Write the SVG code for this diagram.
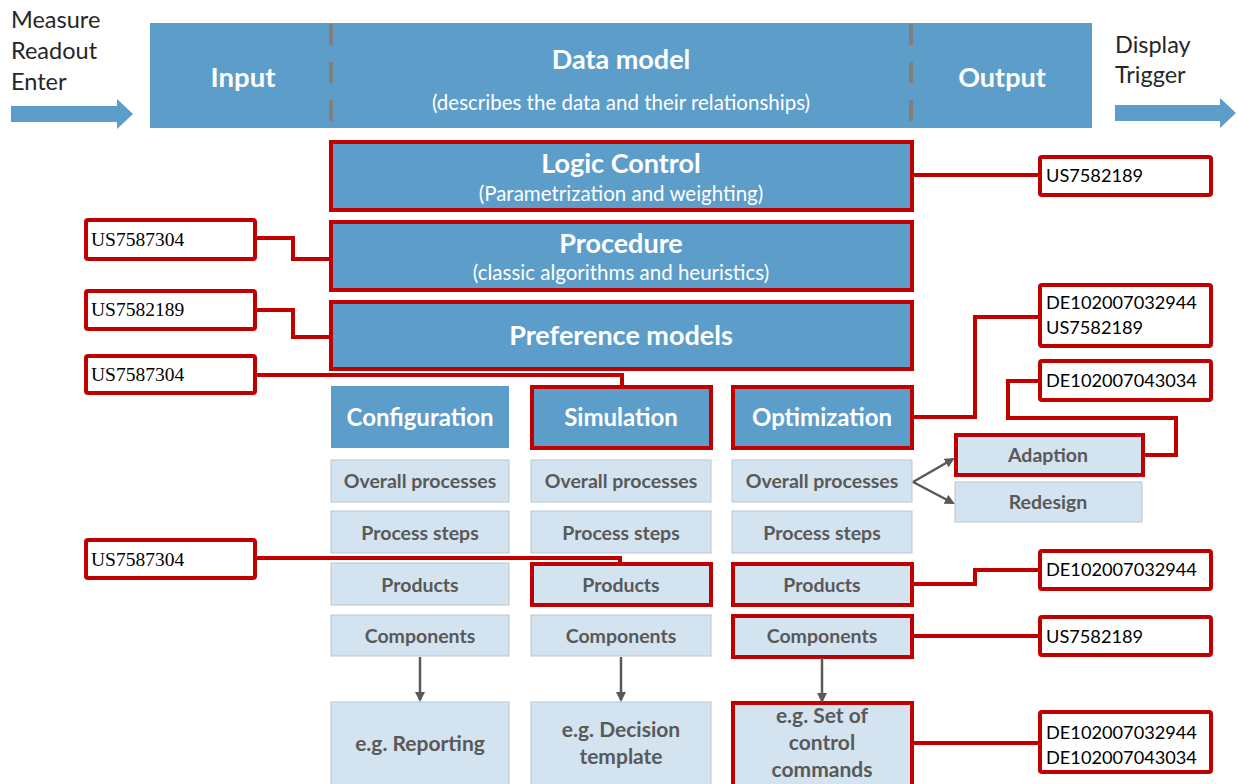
<svg xmlns="http://www.w3.org/2000/svg" width="1238" height="784" viewBox="0 0 1238 784">
<defs>
<style>
.blue{fill:#5d9dca}
.light{fill:#d3e3ef;stroke:#b8c7d3;stroke-width:1}
.red{stroke:#c00000;stroke-width:4}
.lbl{fill:#fff;stroke:#c00000;stroke-width:4}
.conn{fill:none;stroke:#c00000;stroke-width:4}
.garr{fill:none;stroke:#595959;stroke-width:2.5}
.wt{font-family:Lato,"Liberation Sans",sans-serif;fill:#fff;font-weight:bold;text-anchor:middle}
.ws{font-family:Lato,"Liberation Sans",sans-serif;fill:#fff;text-anchor:middle;font-size:20.5px}
.gt{font-family:Lato,"Liberation Sans",sans-serif;fill:#595959;font-weight:bold;text-anchor:middle;font-size:19.5px}
.gb{font-family:Lato,"Liberation Sans",sans-serif;fill:#595959;font-weight:bold;text-anchor:middle;font-size:21px}
.side{font-family:Lato,"Liberation Sans",sans-serif;fill:#262626;font-size:23.5px}
.rs{font-family:Lato,"Liberation Sans",sans-serif;fill:#000;font-size:18.2px}
.ls{font-family:"Liberation Serif",serif;fill:#000;font-size:19.5px}
</style>
<marker id="ah" markerWidth="10" markerHeight="10" refX="8" refY="5" orient="auto" markerUnits="userSpaceOnUse">
<path d="M0,0 L10,5 L0,10 z" fill="#595959"/>
</marker>
</defs>
<rect width="1238" height="784" fill="#fff"/>

<g id="input-arrow">
<text class="side" x="11" y="28">Measure</text>
<text class="side" x="11" y="59">Readout</text>
<text class="side" x="11" y="90">Enter</text>
<path class="blue" d="M11,106 L117,106 L117,99 L133,114 L117,129 L117,122 L11,122 z"/>
</g>
<g id="output-arrow">
<text class="side" x="1115" y="53">Display</text>
<text class="side" x="1115" y="83">Trigger</text>
<path class="blue" d="M1115,105 L1220,105 L1220,98 L1236,113 L1220,128 L1220,121 L1115,121 z"/>
</g>

<g id="datamodel">
<rect class="blue" x="150" y="23" width="942" height="105"/>
<line x1="331" y1="24" x2="331" y2="128" stroke="#7f7f7f" stroke-width="4" stroke-dasharray="21,17"/>
<line x1="911" y1="24" x2="911" y2="128" stroke="#7f7f7f" stroke-width="4" stroke-dasharray="21,17"/>
<text class="wt" x="243" y="87" font-size="27.5">Input</text>
<text class="wt" x="621" y="69" font-size="27">Data model</text>
<text class="ws" x="621" y="110">(describes the data and their relationships)</text>
<text class="wt" x="1002" y="87" font-size="27">Output</text>
</g>

<g id="logic">
<rect class="blue red" x="331" y="142" width="581" height="68"/>
<text class="wt" x="621" y="173" font-size="27">Logic Control</text>
<text class="ws" x="621" y="201">(Parametrization and weighting)</text>
</g>
<g id="procedure">
<rect class="blue red" x="331" y="222" width="581" height="68"/>
<text class="wt" x="621" y="253" font-size="27">Procedure</text>
<text class="ws" x="621" y="280">(classic algorithms and heuristics)</text>
</g>
<g id="preference">
<rect class="blue red" x="331" y="302" width="581" height="67"/>
<text class="wt" x="621" y="345" font-size="27">Preference models</text>
</g>

<g id="configuration">
<rect class="blue" x="331" y="386" width="178" height="62"/>
<text class="wt" x="420" y="426" font-size="24">Configuration</text>
</g>
<g id="simulation">
<rect class="blue red" x="532" y="387" width="179" height="61"/>
<text class="wt" x="621" y="426" font-size="24">Simulation</text>
</g>
<g id="optimization">
<rect class="blue red" x="733" y="387" width="179" height="61"/>
<text class="wt" x="822" y="426" font-size="24">Optimization</text>
</g>

<g id="col1">
<rect class="light" x="331" y="460" width="178" height="42"/><text class="gt" x="420" y="488">Overall processes</text>
<rect class="light" x="331" y="511" width="178" height="42"/><text class="gt" x="420" y="540">Process steps</text>
<rect class="light" x="331" y="563" width="178" height="42"/><text class="gt" x="420" y="592">Products</text>
<rect class="light" x="331" y="615" width="178" height="41"/><text class="gt" x="420" y="643">Components</text>
<rect class="light" x="331" y="702" width="178" height="90"/><text class="gb" x="420" y="751">e.g. Reporting</text>
</g>
<g id="col2">
<rect class="light" x="531" y="460" width="180" height="42"/><text class="gt" x="621" y="488">Overall processes</text>
<rect class="light" x="531" y="511" width="180" height="42"/><text class="gt" x="621" y="540">Process steps</text>
<rect class="light red" x="532" y="564" width="179" height="41"/><text class="gt" x="621" y="592">Products</text>
<rect class="light" x="531" y="615" width="180" height="41"/><text class="gt" x="621" y="643">Components</text>
<rect class="light" x="531" y="702" width="180" height="90"/><text class="gb" x="621" y="737">e.g. Decision</text><text class="gb" x="621" y="764">template</text>
</g>
<g id="col3">
<rect class="light" x="732" y="460" width="180" height="42"/><text class="gt" x="822" y="488">Overall processes</text>
<rect class="light" x="732" y="511" width="180" height="42"/><text class="gt" x="822" y="540">Process steps</text>
<rect class="light red" x="733" y="564" width="179" height="41"/><text class="gt" x="822" y="592">Products</text>
<rect class="light red" x="733" y="616" width="179" height="41"/><text class="gt" x="822" y="643">Components</text>
<rect class="light red" x="733" y="703" width="179" height="90"/><text class="gb" x="822" y="723">e.g. Set of</text><text class="gb" x="822" y="750">control</text><text class="gb" x="822" y="777">commands</text>
</g>
<g id="adaption">
<rect class="light red" x="956" y="435" width="187" height="40"/><text class="gt" x="1048" y="462">Adaption</text>
</g>
<g id="redesign">
<rect class="light" x="955" y="482" width="187" height="40"/><text class="gt" x="1048" y="509">Redesign</text>
</g>

<g id="labels">
<rect class="lbl" x="86" y="220" width="169" height="39" rx="2"/><text class="ls" x="91" y="246">US7587304</text>
<rect class="lbl" x="86" y="291" width="169" height="38" rx="2"/><text class="ls" x="91" y="316">US7582189</text>
<rect class="lbl" x="86" y="356" width="169" height="37" rx="2"/><text class="ls" x="91" y="381">US7587304</text>
<rect class="lbl" x="86" y="540" width="169" height="38" rx="2"/><text class="ls" x="91" y="566">US7587304</text>
<rect class="lbl" x="1040" y="157" width="171" height="38" rx="2"/><text class="rs" x="1046" y="182">US7582189</text>
<rect class="lbl" x="1040" y="285" width="171" height="61" rx="2"/><text class="rs" x="1046" y="309">DE102007032944</text><text class="rs" x="1046" y="334">US7582189</text>
<rect class="lbl" x="1040" y="361" width="171" height="39" rx="2"/><text class="rs" x="1046" y="387">DE102007043034</text>
<rect class="lbl" x="1040" y="551" width="171" height="38" rx="2"/><text class="rs" x="1046" y="576">DE102007032944</text>
<rect class="lbl" x="1040" y="617" width="171" height="38" rx="2"/><text class="rs" x="1046" y="643">US7582189</text>
<rect class="lbl" x="1040" y="712" width="171" height="60" rx="2"/><text class="rs" x="1046" y="739">DE102007032944</text><text class="rs" x="1046" y="764">DE102007043034</text>
</g>

<g id="connectors">
<path class="conn" d="M912,175 L1040,175"/>
<path class="conn" d="M255,238 L293,238 L293,259 L331,259"/>
<path class="conn" d="M255,310 L293,310 L293,337 L331,337"/>
<path class="conn" d="M255,375 L622,375 L622,387"/>
<path class="conn" d="M912,417 L975,417 L975,317 L1040,317"/>
<path class="conn" d="M1040,381 L1008,381 L1008,418 L1176,418 L1176,455 L1143,455"/>
<path class="conn" d="M255,558 L620,558 L620,564"/>
<path class="conn" d="M912,584 L975,584 L975,570 L1040,570"/>
<path class="conn" d="M912,636 L1040,636"/>
<path class="conn" d="M912,743 L1040,743"/>
<path class="garr" d="M913,482 L953,459" marker-end="url(#ah)"/>
<path class="garr" d="M913,482 L953,503" marker-end="url(#ah)"/>
<path class="garr" d="M420,657 L420,700" marker-end="url(#ah)"/>
<path class="garr" d="M621,657 L621,700" marker-end="url(#ah)"/>
<path class="garr" d="M822,658 L822,701" marker-end="url(#ah)"/>
</g>
</svg>
